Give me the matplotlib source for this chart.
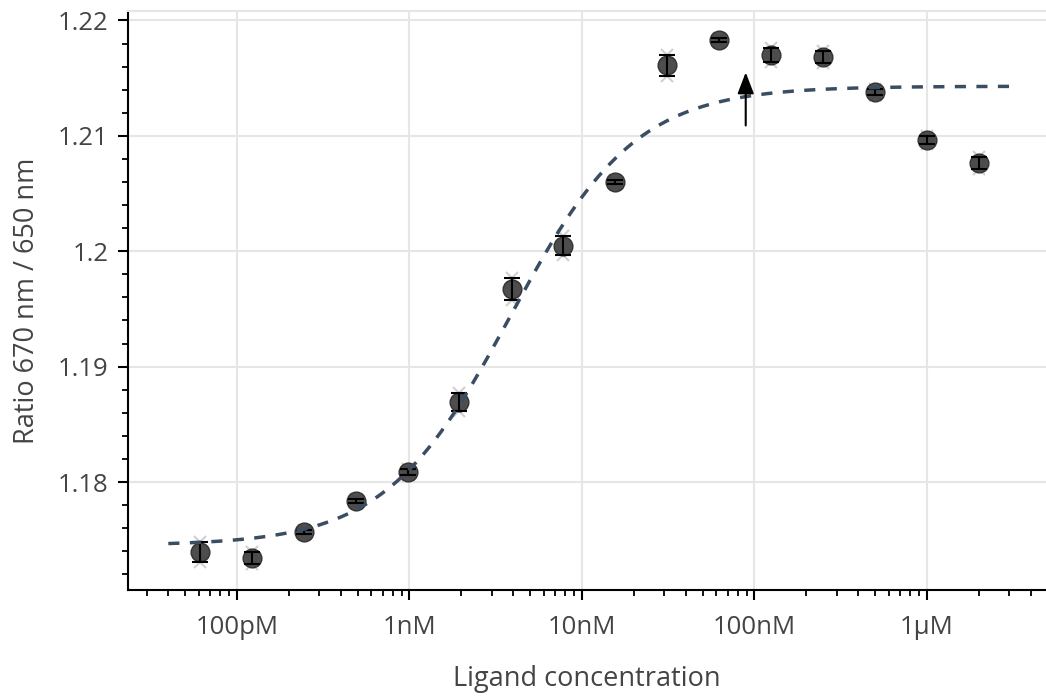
import numpy as np
import matplotlib as mpl
import matplotlib.pyplot as plt
from matplotlib.ticker import FixedLocator, LogLocator, MultipleLocator, NullFormatter

mpl.rcParams['font.family'] = ['Open Sans', 'DejaVu Sans']

# 2-fold dilution series, 2 uM down to ~61 pM (molar)
conc = [6.1e-11, 1.22e-10, 2.44e-10, 4.88e-10, 9.77e-10, 1.95e-9, 3.91e-9, 7.81e-9,
        1.5625e-8, 3.125e-8, 6.25e-8, 1.25e-7, 2.5e-7, 5e-7, 1e-6, 2e-6]
rep1 = [1.17480, 1.17393, 1.17584, 1.17852, 1.18113, 1.18771, 1.19768, 1.20128,
        1.20617, 1.21705, 1.21848, 1.21761, 1.21736, 1.21406, 1.20999, 1.20817]
rep2 = [1.17306, 1.17289, 1.17550, 1.17818, 1.18061, 1.18615, 1.19578, 1.19964,
        1.20583, 1.21523, 1.21814, 1.21641, 1.21632, 1.21354, 1.20929, 1.20713]

# fit parameters (dose-response)
fit_bottom, fit_top, fit_ec50, fit_hill = 1.1745, 1.2143, 3.85e-9, 1.2
fit_range = (4.0e-11, 3.0e-6)

arrow_x, arrow_y0, arrow_y1 = 8.9e-8, 1.2109, 1.2155

xticks = [1e-10, 1e-9, 1e-8, 1e-7, 1e-6]
xticklabels = ['100pM', '1nM', '10nM', '100nM', '1µM']
yticks = [1.18, 1.19, 1.20, 1.21, 1.22]
yticklabels = ['1.18', '1.19', '1.2', '1.21', '1.22']

reps = np.array([rep1, rep2])
mean = reps.mean(axis=0)
err = reps.std(axis=0)

xf = np.logspace(np.log10(fit_range[0]), np.log10(fit_range[1]), 300)
yf = fit_bottom + (fit_top - fit_bottom) / (1 + (fit_ec50 / xf) ** fit_hill)

fig = plt.figure(figsize=(10.46, 6.99), dpi=100)
ax = fig.add_axes([128 / 1046, 1 - 590 / 699, 1 - 128 / 1046, (590 - 11) / 699])

ax.set_xscale('log')
ax.set_xlim(2.335e-11, 4.9e-6)
ax.set_ylim(1.17064, 1.22082)

for r in reps:
    ax.plot(conc, r, 'x', color='#d0d0d0', ms=9, mew=1.5, zorder=2)
ax.plot(conc, mean, 'o', ms=13.5, mfc='#444444', mec='#2e2e2e', mew=1, alpha=0.95, zorder=3)
ax.errorbar(conc, mean, yerr=err, fmt='none', ecolor='black', elinewidth=1.5,
            capsize=6, capthick=1.5, zorder=4)
ax.plot(xf, yf, color='#3b4d63', lw=2.5, dashes=(3.2, 3.0), zorder=5)

ax.annotate('', xy=(arrow_x, arrow_y1), xytext=(arrow_x, arrow_y0),
            arrowprops=dict(arrowstyle='-|>,head_length=1.3,head_width=0.5',
                            color='black', lw=1.5, shrinkA=0, shrinkB=0), zorder=6)

ax.xaxis.set_major_locator(FixedLocator(xticks))
ax.set_xticklabels(xticklabels)
ax.xaxis.set_minor_locator(LogLocator(base=10, subs=np.arange(2, 10)))
ax.xaxis.set_minor_formatter(NullFormatter())
ax.set_yticks(yticks)
ax.set_yticklabels(yticklabels)
ax.yaxis.set_minor_locator(MultipleLocator(0.002))

ax.tick_params(which='major', direction='out', length=7, width=1.5, labelsize=18.5,
               labelcolor='#444444')
ax.tick_params(axis='x', which='major', pad=11)
ax.tick_params(axis='y', which='major', pad=7)
ax.tick_params(which='minor', direction='out', length=4, width=1.3)

ax.grid(True, which='major', color='#e6e6e6', lw=1.5)
ax.set_axisbelow(True)
for s in ['left', 'bottom']:
    ax.spines[s].set_linewidth(1.5)
    ax.spines[s].set_color('black')
ax.spines['top'].set_color('#e6e6e6')
ax.spines['top'].set_linewidth(1.5)
ax.spines['right'].set_visible(False)

ax.set_xlabel('Ligand concentration', fontsize=19.5, color='#444444', labelpad=18)
ax.set_ylabel('Ratio 670 nm / 650 nm', fontsize=19.5, color='#444444', labelpad=12)

fig.savefig('out.png', dpi=100)
